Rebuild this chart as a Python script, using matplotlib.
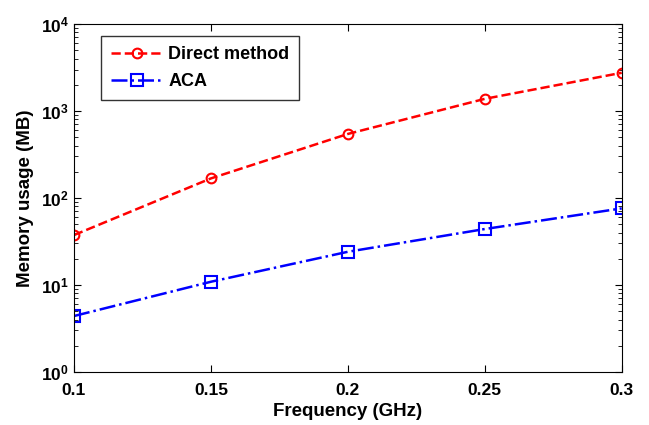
import matplotlib
matplotlib.use("Agg")
import matplotlib.pyplot as plt

# dados
freq = [0.1, 0.15, 0.2, 0.25, 0.3]
direct_mem = [37.5, 168, 545, 1380, 2750]
aca_mem = [4.4, 10.9, 24.1, 44, 76]

plt.rcParams['font.family'] = ['Liberation Sans', 'DejaVu Sans']
plt.rcParams['font.weight'] = 'bold'

fig = plt.figure(figsize=(6.49, 4.25), dpi=100)
ax = fig.add_axes([0.114, 0.1247, 0.844, 0.8188])

ax.plot(freq, direct_mem, color='red', linestyle='--', linewidth=1.8,
        marker='o', markersize=7, markerfacecolor='none', markeredgewidth=1.5,
        label='Direct method')
ax.plot(freq, aca_mem, color='blue', linestyle='-.', linewidth=1.8,
        marker='s', markersize=8, markerfacecolor='none', markeredgewidth=1.5,
        label='ACA')

ax.set_yscale('log')
ax.set_xlim(0.1, 0.3)
ax.set_ylim(1, 1e4)
ax.set_xticks(freq)
ax.set_xticklabels(['0.1', '0.15', '0.2', '0.25', '0.3'])

ax.tick_params(which='both', direction='in', top=True, right=True, labelsize=12.5)
ax.tick_params(which='major', length=5)
ax.tick_params(which='minor', length=3)
ax.tick_params(axis='x', pad=8)
for lbl in ax.get_xticklabels() + ax.get_yticklabels():
    lbl.set_fontweight('bold')

ax.set_xlabel('Frequency (GHz)', fontsize=13.5, fontweight='bold', labelpad=3.5)
ax.set_ylabel('Memory usage (MB)', fontsize=13.5, fontweight='bold', labelpad=5)

leg = ax.legend(loc='upper left', bbox_to_anchor=(0.05, 0.965), fontsize=13,
                frameon=True, fancybox=False, edgecolor='black',
                handlelength=2.9, borderpad=0.55, labelspacing=0.55,
                handletextpad=0.25, borderaxespad=0.0)
leg.get_frame().set_linewidth(1.0)
for t in leg.get_texts():
    t.set_fontweight('bold')

fig.savefig('out.png', dpi=100)
